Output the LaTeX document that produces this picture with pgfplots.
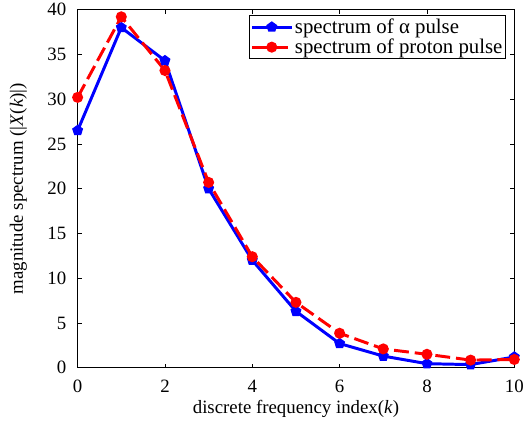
\documentclass[border=0pt]{standalone}
\usepackage{pgfplots}
\pgfplotsset{compat=1.18}
\usepackage{fontspec}
\setmainfont{Liberation Serif}
\begin{document}
\begin{tikzpicture}
\begin{axis}[
  scale only axis,
  width=439bp, height=360bp,
  xmin=0, xmax=10, ymin=0, ymax=40,
  xtick={0,2,4,6,8,10}, ytick={0,5,10,15,20,25,30,35,40},
  tick align=inside,
  tick style={black, line width=0.8pt},
  axis line style={line width=1pt},
  major tick length=4pt,
  /pgf/number format/assume math mode=true,
  ticklabel style={font=\fontsize{19}{21}\selectfont},
  xticklabel style={yshift=-9pt},
  yticklabel style={xshift=-8pt},
  label style={font=\fontsize{19}{21}\selectfont},
  xlabel={discrete frequency index(\textit{k})},
  ylabel={magnitude spectrum (|\textit{X}(\textit{k})|)},
  xlabel style={yshift=-1pt},
  ylabel style={yshift=7pt, inner ysep=10pt},
  legend style={at={(0.982,0.985)}, anchor=north east, draw=black, line width=1pt,
    font=\fontsize{21}{24}\selectfont, inner sep=1.5pt, row sep=0pt},
  legend cell align=left,
  legend image code/.code={\draw[#1] (0cm,0cm) -- (1.4cm,0cm); \draw[#1, mark repeat=1, solid] plot coordinates {(0.7cm,0cm)};},
]
\addplot[blue, line width=3pt, mark=pentagon*, mark size=4pt, mark options={solid}]
coordinates {(0,26.5) (1,38.0) (2,34.3) (3,20.0) (4,12.0) (5,6.3) (6,2.7) (7,1.3) (8,0.45) (9,0.35) (10,1.2)};
\addlegendentry{spectrum of α pulse}
\addplot[red, line width=3pt, dash pattern=on 15pt off 6pt, mark=*, mark size=4pt, mark options={solid}]
coordinates {(0,30.2) (1,39.2) (2,33.2) (3,20.7) (4,12.4) (5,7.3) (6,3.85) (7,2.1) (8,1.5) (9,0.85) (10,0.92)};
\addlegendentry{spectrum of proton pulse}
\end{axis}
\end{tikzpicture}
\end{document}
